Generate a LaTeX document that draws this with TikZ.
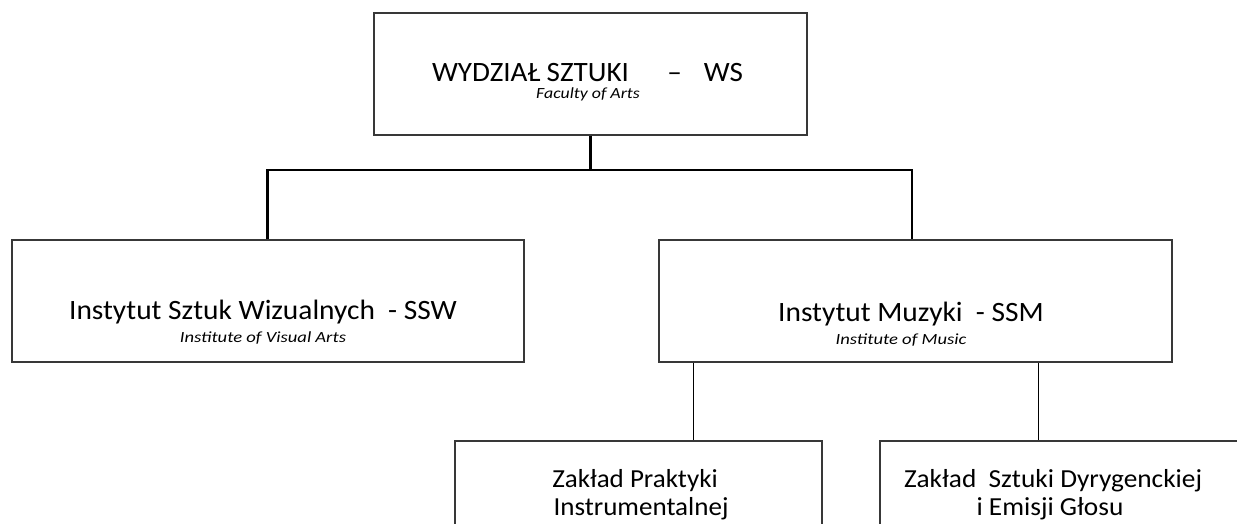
\documentclass[tikz,border=0pt]{standalone}
\usepackage{fontspec}
\usepackage{graphicx}
\setmainfont{Carlito}
\usetikzlibrary{calc}
\begin{document}
\begin{tikzpicture}[x=1pt,y=-1pt,
  orgbox/.style={draw=black!78, line width=1.5pt, rectangle, inner sep=0pt},
  lbl/.style={anchor=base, inner sep=0pt, text=black},
  trunk/.style={draw=black, line width=3.2pt},
  bus/.style={draw=black, line width=2.3pt},
  sub/.style={draw=black, line width=1.5pt}]
\clip (0,0) rectangle (1237,524);
% boxes
\node[orgbox, minimum width=433pt, minimum height=122pt] (ws) at (590.5,74) {};
\node[orgbox, minimum width=512pt, minimum height=122pt] (ssw) at (268,301) {};
\node[orgbox, minimum width=513pt, minimum height=122pt] (ssm) at (915.5,301) {};
\node[orgbox, minimum width=367pt, minimum height=122pt] (zpi) at (638.5,502) {};
\node[orgbox, minimum width=367pt, minimum height=122pt] (zsd) at (1063.5,502) {};
% labels
\node[lbl, font=\fontsize{28}{32}\selectfont] (wsT) at (587.5,81.5) {\scalebox{1.04}[1]{WYDZIAŁ SZTUKI\hspace{37pt}–\hspace{21pt}WS}};
\node[lbl, font=\fontsize{15.5}{18}\selectfont\itshape] (wsE) at (588,99) {\scalebox{1.15}[1]{Faculty of Arts}};
\node[lbl, font=\fontsize{28}{32}\selectfont] (sswT) at (263,319) {\scalebox{1.05}[1]{Instytut Sztuk Wizualnych\ \ - SSW}};
\node[lbl, font=\fontsize{15.5}{18}\selectfont\itshape] (sswE) at (263,342) {\scalebox{1.2}[1]{Institute of Visual Arts}};
\node[lbl, font=\fontsize{28}{32}\selectfont] (ssmT) at (911,321) {\scalebox{1.05}[1]{Instytut Muzyki\ \ - SSM}};
\node[lbl, font=\fontsize{15.5}{18}\selectfont\itshape] (ssmE) at (901,344) {\scalebox{1.2}[1]{Institute of Music}};
\node[lbl, font=\fontsize{26}{30}\selectfont] (zpiA) at (635,487) {\scalebox{1.04}[1]{Zakład Praktyki}};
\node[lbl, font=\fontsize{26}{30}\selectfont] (zpiB) at (641,515) {\scalebox{1.04}[1]{Instrumentalnej}};
\node[lbl, font=\fontsize{26}{30}\selectfont] (zsdA) at (1053,487) {\scalebox{1.05}[1]{Zakład\ \ Sztuki Dyrygenckiej}};
\node[lbl, font=\fontsize{26}{30}\selectfont] (zsdB) at (1050,515) {\scalebox{1.05}[1]{i Emisji Głosu}};
% connectors
\coordinate (busc) at (590,170);
\draw[trunk] (ws.south) -- (ws.south |- busc);
\draw[bus] ([xshift=-0.5pt]ssw.north) |- (busc) -| ([xshift=-3.5pt]ssm.north);
\draw[sub] ([xshift=35pt]ssm.south west) -- ([xshift=35pt]ssm.south west |- zpi.north);
\draw[sub] ([xshift=380pt]ssm.south west) -- ([xshift=380pt]ssm.south west |- zsd.north);
\end{tikzpicture}
\end{document}
